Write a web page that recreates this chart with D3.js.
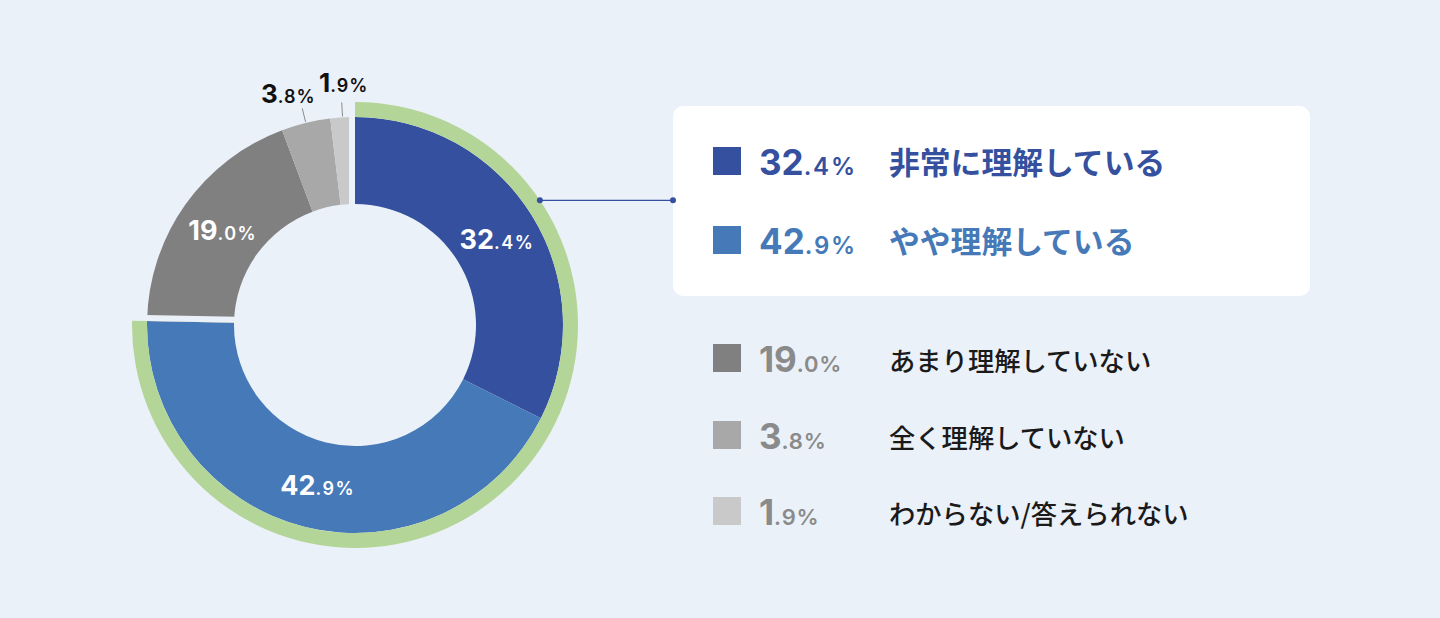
<!DOCTYPE html>
<html>
<head>
<meta charset="utf-8">
<script src="https://cdn.jsdelivr.net/npm/d3@7"></script>
<style>
  body { margin: 0; background: #ebf1f8; }
  svg { display: block; }
</style>
</head>
<body>
<div id="chart"></div>
<script>
// answers, in drawing order (clockwise from the top)
var categories = ["非常に理解している", "やや理解している", "あまり理解していない", "全く理解していない", "わからない/答えられない"];
var values = [32.4, 42.9, 19.0, 3.8, 1.9];
var palette = ["#34509e", "#4579b7", "#808080", "#a8a8a8", "#c9c9c9"];

var width = 1440, height = 618;
var cx = 355, cy = 325;
var rIn = 121, rOut = 208, rRing = 223;
var bg = "#ebf1f8";

var color = d3.scaleOrdinal().domain(categories).range(palette);

var svg = d3.select("#chart").append("svg")
	.attr("width", width)
	.attr("height", height);

svg.append("rect").attr("width", width).attr("height", height).attr("fill", bg);

var pie = d3.pie().sort(null).value(function (d) { return d; });
var arcs = pie(values);
arcs.forEach(function (a, i) { a.cat = categories[i]; });

var arc = d3.arc().innerRadius(rIn).outerRadius(rOut);

var donut = svg.append("g").attr("transform", "translate(" + cx + "," + cy + ")");

donut.selectAll(".slice")
	.data(arcs)
	.enter().append("path")
	.attr("class", "slice")
	.attr("d", arc)
	.attr("fill", function (d) { return color(d.cat); });

// green ring round the two "understand" answers
var ringEnd = arcs[1].endAngle;
donut.append("path")
	.attr("d", d3.arc()({ innerRadius: rOut, outerRadius: rRing, startAngle: 0, endAngle: ringEnd }))
	.attr("fill", "#b4d598");

// gaps between the blue group and the grey group (on the grey side)
var gaps = [{ angle: 0, side: -1 }, { angle: ringEnd, side: 1 }];
donut.selectAll(".gap")
	.data(gaps)
	.enter().append("rect")
	.attr("class", "gap")
	.attr("x", function (d) { return d.side < 0 ? -6 : 0; })
	.attr("y", -rOut - 2)
	.attr("width", 6)
	.attr("height", rOut - rIn + 4)
	.attr("transform", function (d) { return "rotate(" + (d.angle * 180 / Math.PI) + ")"; })
	.attr("fill", bg);

// value labels: big integer part, small decimal part
function splitNum(v) {
	var s = v.toFixed(1).split(".");
	return { a: s[0], b: "." + s[1] + "%" };
}

function numText(sel, v, big, small, spacing) {
	var p = splitNum(v);
	sel.append("tspan").attr("font-size", big).attr("font-weight", 700).text(p.a);
	sel.append("tspan").attr("font-size", small).attr("font-weight", 600)
		.attr("letter-spacing", spacing).text(p.b);
}

var labelArc = d3.arc().innerRadius((rIn + rOut) / 2).outerRadius((rIn + rOut) / 2);

donut.selectAll(".inlabel")
	.data(arcs.filter(function (d) { return d.data > 10; }))
	.enter().append("text")
	.attr("class", "inlabel")
	.attr("x", function (d) { return labelArc.centroid(d)[0] + 2; })
	.attr("y", function (d) { return labelArc.centroid(d)[1] + 10; })
	.attr("text-anchor", "middle")
	.attr("fill", "#fff")
	.attr("font-family", "Inter, 'Noto Sans', sans-serif")
	.each(function (d) { numText(d3.select(this), d.data, 27, 18, 1.5); });

// small slices: label above with a leader line
var outside = arcs.filter(function (d) { return d.data < 10; });
var outOffsets = [{ dx: -14, dy: -22 }, { dx: 2, dy: -27 }];

outside.forEach(function (d, i) {
	var m = (d.startAngle + d.endAngle) / 2;
	var x0 = Math.sin(m) * (rOut + 1), y0 = -Math.cos(m) * (rOut + 1);
	var x1 = Math.sin(m) * (rOut + 15), y1 = -Math.cos(m) * (rOut + 15);
	donut.append("line")
		.attr("x1", x0).attr("y1", y0).attr("x2", x1).attr("y2", y1)
		.attr("stroke", "#8c8c8c").attr("stroke-width", 1);
	var t = donut.append("text")
		.attr("x", x1 + outOffsets[i].dx)
		.attr("y", y1 + outOffsets[i].dy + 17)
		.attr("text-anchor", "middle")
		.attr("fill", "#111")
		.attr("font-family", "Inter, 'Noto Sans', sans-serif");
	numText(t, d.data, 26, 18, 1);
});

// connector from the ring to the legend card
var connAngle = 56 * Math.PI / 180;
var px = cx + Math.sin(connAngle) * rRing, py = cy - Math.cos(connAngle) * rRing;
var cardX = 673, cardY = 106, cardW = 637, cardH = 190;

svg.append("rect")
	.attr("x", cardX).attr("y", cardY)
	.attr("width", cardW).attr("height", cardH)
	.attr("rx", 10)
	.attr("fill", "#fff");

svg.append("line")
	.attr("x1", px).attr("y1", py).attr("x2", cardX).attr("y2", py)
	.attr("stroke", "#34509e").attr("stroke-width", 1.2);
svg.selectAll(".dot")
	.data([px, cardX])
	.enter().append("circle")
	.attr("class", "dot")
	.attr("cx", function (d) { return d; })
	.attr("cy", py)
	.attr("r", 3)
	.attr("fill", "#34509e");

// legend rows
var rowY = [175, 254, 372, 449, 525];
var legend = svg.selectAll(".row")
	.data(arcs)
	.enter().append("g")
	.attr("class", "row")
	.attr("transform", function (d, i) { return "translate(0," + rowY[i] + ")"; });

legend.append("rect")
	.attr("x", 713).attr("y", -28)
	.attr("width", 28).attr("height", 28)
	.attr("fill", function (d) { return color(d.cat); });

legend.append("text")
	.attr("x", 759).attr("y", 0)
	.attr("font-family", "Inter, 'Noto Sans', sans-serif")
	.attr("fill", function (d, i) { return i < 2 ? color(d.cat) : "#8a8a8a"; })
	.each(function (d, i) {
		if (i < 2) numText(d3.select(this), d.data, 35, 24, 1.8);
		else numText(d3.select(this), d.data, 35, 22, 0.8);
	});

legend.append("text")
	.attr("x", 889)
	.attr("y", -1)
	.attr("font-family", "'Noto Sans CJK JP', sans-serif")
	.attr("font-weight", function (d, i) { return i < 2 ? 700 : 500; })
	.attr("font-size", function (d, i) { return i < 2 ? 30.8 : 26.3; })
	.attr("fill", function (d, i) { return i < 2 ? color(d.cat) : "#1a1a1a"; })
	.text(function (d) { return d.cat; });
</script>
</body>
</html>
